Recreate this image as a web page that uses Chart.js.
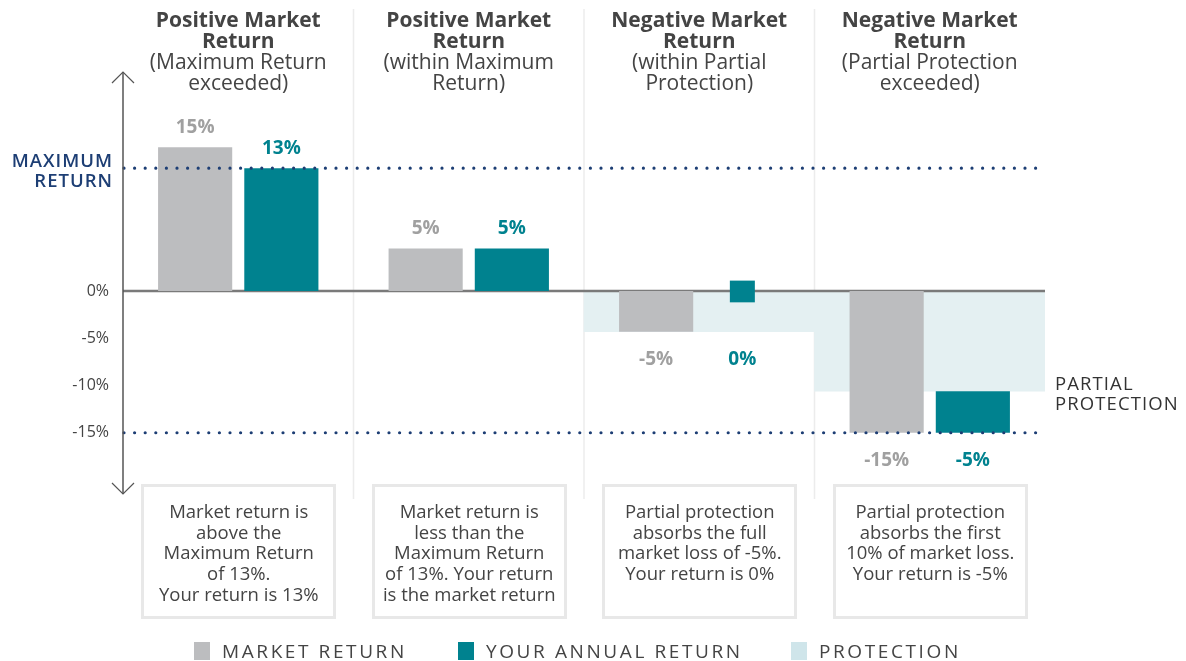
<!DOCTYPE html>
<html>
<head>
<meta charset="utf-8">
<script src="https://cdn.jsdelivr.net/npm/chart.js@4/dist/chart.umd.min.js"></script>
<style>
  html, body { margin:0; padding:0; background:#fff; }
  #wrap { position:relative; width:1186px; height:661px; font-family:'Open Sans', sans-serif; color:#444; overflow:hidden; }
  #c { position:absolute; left:0; top:0; }
  .hdr { position:absolute; top:9px; width:260px; text-align:center; font-size:21px; line-height:21px; color:#444; white-space:nowrap; }
  .hdr b { font-weight:700; }
  .box { position:absolute; top:484px; width:189px; height:115px; border:3px solid #e8e8e8; text-align:center;
         font-size:18.5px; line-height:20.7px; color:#444; padding-top:14px; box-sizing:content-box; white-space:nowrap; }
  .side { position:absolute; font-size:18.5px; line-height:20px; white-space:nowrap; }
  .legend { position:absolute; top:641px; height:20px; font-size:19px; line-height:20px; letter-spacing:2.6px; color:#444; white-space:nowrap; }
  .legend span.sw { display:inline-block; width:16px; height:18px; vertical-align:-2px; margin-right:12px; }
</style>
</head>
<body>
<div id="wrap">
  <canvas id="c" width="1186" height="661"></canvas>
  <div id="headers"></div>
  <div id="boxes"></div>
  <div class="side" style="right:1073px; top:150px; text-align:right; color:#1d3e74; font-weight:600; letter-spacing:1px;">MAXIMUM<br>RETURN</div>
  <div class="side" style="left:1055px; top:373px; text-align:left; color:#333; letter-spacing:1.1px;">PARTIAL<br>PROTECTION</div>
  <div id="legend"></div>
</div>
<script>
// ---- data ----
const categories = ['Positive Market Return (Maximum Return exceeded)', 'Positive Market Return (within Maximum Return)', 'Negative Market Return (within Partial Protection)', 'Negative Market Return (Partial Protection exceeded)'];
const headerBold = [['Positive Market', 'Return'], ['Positive Market', 'Return'], ['Negative Market', 'Return'], ['Negative Market', 'Return']];
const headerSub = [['(Maximum Return', 'exceeded)'], ['(within Maximum', 'Return)'], ['(within Partial', 'Protection)'], ['(Partial Protection', 'exceeded)']];
const marketReturn = [15.2, 4.5, -4.3, -15];
const annualReturn = [13, 4.5, null, [-10.6, -15]];
const zeroMarker = [null, null, [1.1, -1.2], null];
const protection = [null, null, [0, -4.3], [0, -10.6]];
const marketLabels = ['15%', '5%', '-5%', '-15%'];
const annualLabels = ['13%', '5%', '0%', '-5%'];
const maximumReturn = 13;
const lowerLine = -15;
const yTickValues = [0, -5, -10, -15];
const boxTexts = [
  ['Market return is', 'above the', 'Maximum Return', 'of 13%.', 'Your return is 13%'],
  ['Market return is', 'less than the', 'Maximum Return', 'of 13%. Your return', 'is the market return'],
  ['Partial protection', 'absorbs the full', 'market loss of -5%.', 'Your return is 0%'],
  ['Partial protection', 'absorbs the first', '10% of market loss.', 'Your return is -5%']
];
const legendItems = ['MARKET RETURN', 'YOUR ANNUAL RETURN', 'PROTECTION'];

const GRAY = '#bcbdbf', TEAL = '#00828f', PROT = '#e4f0f2', NAVY = '#1d3e74';

const decor = {
  id: 'decor',
  beforeDatasetsDraw(chart) {
    const {ctx, scales:{x}} = chart;
    ctx.save();
    ctx.strokeStyle = '#ececec';
    ctx.lineWidth = 1.5;
    for (let i = 1; i < categories.length; i++) {
      const px = (x.getPixelForValue(i - 1) + x.getPixelForValue(i)) / 2;
      ctx.beginPath(); ctx.moveTo(px, 9); ctx.lineTo(px, 499); ctx.stroke();
    }
    ctx.restore();
  },
  afterDatasetDraw(chart, args) {
    if (args.index !== 3) return;
    const {ctx, chartArea, scales:{y}} = chart;
    const y0 = y.getPixelForValue(0);
    ctx.save();
    ctx.strokeStyle = '#7a7a7a'; ctx.lineWidth = 2.5;
    ctx.beginPath(); ctx.moveTo(chartArea.left, y0); ctx.lineTo(chartArea.right, y0); ctx.stroke();
    ctx.restore();
  },
  afterDatasetsDraw(chart) {
    const {ctx, chartArea, scales:{y}} = chart;
    ctx.save();
    ctx.strokeStyle = NAVY; ctx.lineWidth = 3.2; ctx.lineCap = 'round'; ctx.setLineDash([0, 10.6]);
    [maximumReturn, lowerLine].forEach(v => {
      const py = y.getPixelForValue(v);
      ctx.beginPath(); ctx.moveTo(chartArea.left + 1, py); ctx.lineTo(chartArea.right + 1, py); ctx.stroke();
    });
    ctx.setLineDash([]);
    const ax = chartArea.left;
    ctx.strokeStyle = '#555'; ctx.lineWidth = 1.5; ctx.lineCap = 'butt';
    ctx.beginPath(); ctx.moveTo(ax, 72); ctx.lineTo(ax, 494); ctx.stroke();
    ctx.lineWidth = 1.2;
    ctx.beginPath(); ctx.moveTo(ax - 11, 83); ctx.lineTo(ax, 72); ctx.lineTo(ax + 11, 83); ctx.stroke();
    ctx.beginPath(); ctx.moveTo(ax - 11, 483); ctx.lineTo(ax, 494); ctx.lineTo(ax + 11, 483); ctx.stroke();
    const m0 = chart.getDatasetMeta(0), m1 = chart.getDatasetMeta(1), m2 = chart.getDatasetMeta(2);
    ctx.font = 'bold 19px "Open Sans"';
    ctx.textAlign = 'center'; ctx.textBaseline = 'middle';
    for (let i = 0; i < categories.length; i++) {
      const g = m0.data[i];
      const t = annualReturn[i] !== null ? m1.data[i] : m2.data[i];
      if (marketReturn[i] > 0) {
        ctx.fillStyle = '#a0a0a0';
        ctx.fillText(marketLabels[i], g.x, Math.min(g.y, g.base) - 20);
        ctx.fillStyle = TEAL;
        ctx.fillText(annualLabels[i], t.x, Math.min(t.y, t.base) - 20);
      } else {
        const bottom = Math.max(g.y, g.base, t.y, t.base) + 28;
        ctx.fillStyle = '#a0a0a0';
        ctx.fillText(marketLabels[i], g.x, bottom);
        ctx.fillStyle = TEAL;
        ctx.fillText(annualLabels[i], t.x, bottom);
      }
    }
    ctx.restore();
  }
};

const chart = new Chart(document.getElementById('c'), {
  type: 'bar',
  data: {
    labels: categories,
    datasets: [
      { label: legendItems[0], data: marketReturn, backgroundColor: GRAY, stack: 'market', order: 1 },
      { label: legendItems[1], data: annualReturn, backgroundColor: TEAL, stack: 'annual', order: 2 },
      { label: 'marker', data: zeroMarker, backgroundColor: TEAL, stack: 'annual', barPercentage: 0.29, order: 3 },
      { label: legendItems[2], data: protection, backgroundColor: PROT, grouped: false, categoryPercentage: 1, barPercentage: 1, order: 10 }
    ]
  },
  options: {
    responsive: false,
    animation: false,
    devicePixelRatio: 1,
    layout: { padding: { left: 0, right: 141, top: 102, bottom: 181 } },
    plugins: { legend: { display: false }, tooltip: { enabled: false } },
    datasets: { bar: { categoryPercentage: 0.748, barPercentage: 0.86, borderWidth: 0 } },
    scales: {
      x: { display: false, stacked: true, offset: true },
      y: {
        min: -20, max: 20, stacked: false,
        grid: { display: false }, border: { display: false },
        ticks: { stepSize: 5, padding: 6, color: '#444', font: { family: 'Open Sans', size: 16 },
                 callback: v => yTickValues.includes(v) ? v + '%' : '' },
        afterFit(s) { s.width = 123; }
      }
    }
  },
  plugins: [decor]
});

const xs = chart.scales.x;
const hdrs = document.getElementById('headers');
const boxes = document.getElementById('boxes');
categories.forEach((c, i) => {
  const cx = xs.getPixelForValue(i);
  const h = document.createElement('div');
  h.className = 'hdr';
  h.style.left = (cx - 130) + 'px';
  h.innerHTML = '<b>' + headerBold[i].join('<br>') + '</b><br>' + headerSub[i].join('<br>');
  hdrs.appendChild(h);
  const b = document.createElement('div');
  b.className = 'box';
  b.style.left = (cx - 97) + 'px';
  b.innerHTML = boxTexts[i].join('<br>');
  boxes.appendChild(b);
});
const lg = document.getElementById('legend');
const lgLeft = [194, 458, 791];
const lgCols = [GRAY, TEAL, '#cfe5ea'];
legendItems.forEach((t, i) => {
  const d = document.createElement('div');
  d.className = 'legend';
  d.style.left = lgLeft[i] + 'px';
  d.innerHTML = '<span class="sw" style="background:' + lgCols[i] + '"></span>' + t;
  lg.appendChild(d);
});
</script>
</body>
</html>
